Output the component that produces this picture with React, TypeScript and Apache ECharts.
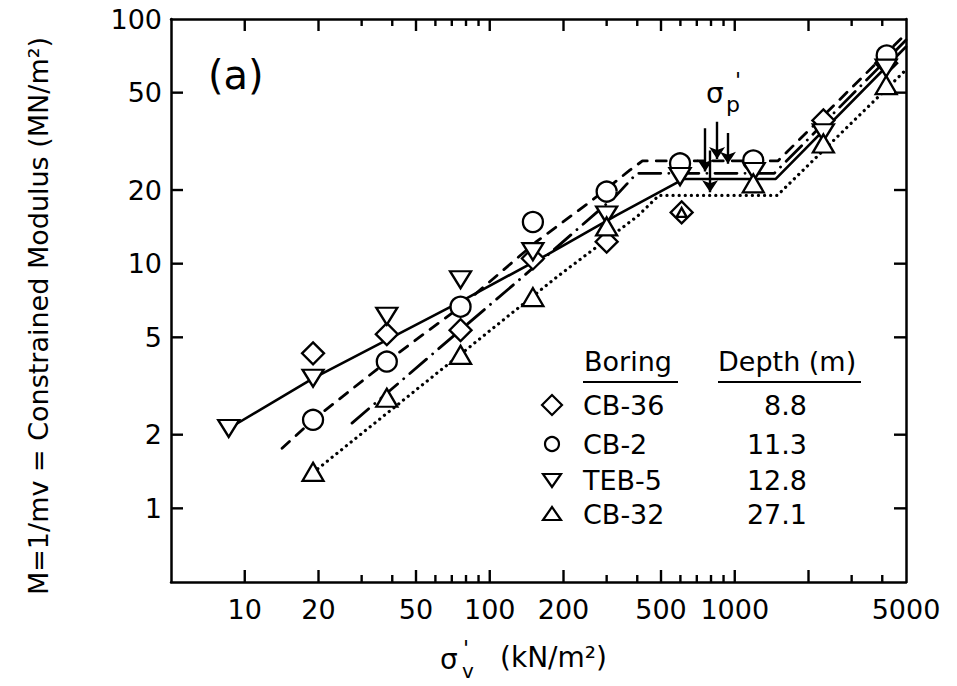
import React, { useEffect, useRef } from 'react';
import * as echarts from 'echarts';

// ---------- data (sigma'v in kN/m2, M in MN/m2) ----------
const borings = ['CB-36', 'CB-2', 'TEB-5', 'CB-32'];
const depths = ['8.8', '11.3', '12.8', '27.1'];

const cb36Stress = [19, 38, 76, 150, 300, 607, 2300, 4150];
const cb36Modulus = [4.3, 5.15, 5.35, 10.5, 12.3, 16.2, 38.5, 66];
const cb2Stress = [19, 38, 76, 150, 300, 598, 1190, 4170];
const cb2Modulus = [2.3, 3.98, 6.67, 14.8, 19.7, 25.7, 26.4, 71];
const teb5Stress = [8.6, 19, 38, 76, 150, 300, 598, 1200, 2300, 4150];
const teb5Modulus = [2.12, 3.4, 6.1, 8.6, 11.2, 15.8, 22.7, 23.8, 34.3, 63];
const cb32Stress = [19, 38, 76, 150, 300, 607, 1190, 2300, 4150];
const cb32Modulus = [1.41, 2.83, 4.24, 7.3, 14.2, 16.2, 21.3, 31, 53.7];

// interpreted curves
const solidStress = [8.6, 19, 76, 171, 330, 620, 1470, 5000];
const solidModulus = [2.12, 3.4, 7.0, 10.86, 15.8, 22.2, 22.2, 77];
const dashedStress = [14.2, 19, 38, 76, 155, 257, 373, 420, 1500, 5000];
const dashedModulus = [1.76, 2.3, 3.98, 6.67, 12.3, 17.9, 24.1, 26.3, 26.3, 87];
const dashDotStress = [27.4, 76, 137, 330, 398, 1450, 5000];
const dashDotModulus = [2.23, 5.36, 8.87, 19.1, 23.4, 23.4, 82];
const dottedStress = [19, 190, 400, 490, 1490, 5000];
const dottedModulus = [1.4, 8.9, 15.6, 19.0, 19.0, 62];

// sigma'p arrows
const arrowStress = [757, 847, 938, 793];
const arrowFrom = [35.8, 38, 34.2, 29];
const arrowTo = [23.8, 26.8, 25.6, 19.6];

// axes
const xMajorTicks = [10, 20, 50, 100, 200, 500, 1000, 2000];
const xMinorTicks = [30, 40, 60, 70, 80, 90, 300, 400, 600, 700, 800, 900, 3000, 4000];
const xTickLabels = [10, 20, 50, 100, 200, 500, 1000, 5000];
const yTicks = [1, 2, 5, 10, 20, 50];
const yTickLabels = [1, 2, 5, 10, 20, 50, 100];
const X_MIN = 5;
const X_MAX = 5000;
const Y_MIN = 0.5;
const Y_MAX = 100;

const L = (v: number) => Math.log10(v);
const pts = (xs: number[], ys: number[]) => xs.map((x, i) => [L(x), L(ys[i])]);

const FONT = 'DejaVu Sans';
const BLACK = '#000';

const GRID = { left: 171, top: 19, width: 735, height: 563 };

function xAxisDef(position: 'bottom' | 'top', showLabels: boolean) {
  return {
    type: 'value',
    position,
    min: L(X_MIN),
    max: L(X_MAX),
    axisLine: { show: true, onZero: false, lineStyle: { color: BLACK, width: 2.5 } },
    axisTick: { show: false },
    axisLabel: showLabels
      ? {
          show: true,
          customValues: xTickLabels.map(L),
          formatter: (v: number) => String(Math.round(Math.pow(10, v))),
          color: BLACK,
          fontFamily: FONT,
          fontSize: 27,
          margin: 14,
        }
      : { show: false },
    splitLine: { show: false },
  };
}

function yAxisDef(position: 'left' | 'right', showLabels: boolean) {
  return {
    type: 'value',
    position,
    min: L(Y_MIN),
    max: L(Y_MAX),
    axisLine: { show: true, onZero: false, lineStyle: { color: BLACK, width: 2.5 } },
    axisTick: { show: false },
    axisLabel: showLabels
      ? {
          show: true,
          customValues: yTickLabels.map(L),
          formatter: (v: number) => String(Math.round(Math.pow(10, v))),
          color: BLACK,
          fontFamily: FONT,
          fontSize: 27,
          margin: 9,
        }
      : { show: false },
    splitLine: { show: false },
  };
}

const markerStyle = { color: '#fff', borderColor: BLACK, borderWidth: 2.3, opacity: 1 };
const TRI_DOWN = 'path://M0 0 L20 0 L10 17 Z';

function textEl(text: string, x: number, y: number, size: number, align = 'left', extra: any = {}) {
  return {
    type: 'text',
    x,
    y,
    z: 10,
    ...extra,
    style: {
      text,
      fill: BLACK,
      fontFamily: FONT,
      fontSize: size,
      textAlign: align,
      align,
      textVerticalAlign: 'middle',
      verticalAlign: 'middle',
    },
  };
}

function seg(x1: number, y1: number, x2: number, y2: number, w = 2.4, color = BLACK) {
  return { type: 'line', z: 20, silent: true, shape: { x1, y1, x2, y2 }, style: { stroke: color, lineWidth: w } };
}

export default function App() {
  const ref = useRef<HTMLDivElement>(null);

  useEffect(() => {
    if (!ref.current) return;
    const chart = echarts.init(ref.current, undefined, { renderer: 'svg' });

    const lineSeries = (name: string, xs: number[], ys: number[], type: any, width: number) => ({
      name,
      type: 'line',
      xAxisIndex: 0,
      yAxisIndex: 0,
      data: pts(xs, ys),
      symbol: 'none',
      showSymbol: false,
      silent: true,
      z: 2,
      lineStyle: { color: BLACK, width, type, cap: 'round' },
    });

    const scatter = (name: string, xs: number[], ys: number[], symbol: string, size: any) => ({
      name,
      type: 'scatter',
      xAxisIndex: 0,
      yAxisIndex: 0,
      data: pts(xs, ys),
      symbol,
      symbolSize: size,
      itemStyle: markerStyle,
      z: 3,
    });

    // legend drawn as a table
    const rowsY = [405, 444, 480, 514];
    const sx = 552;
    const legendSymbols: any[] = [
      { type: 'polygon', shape: { points: [[sx, rowsY[0] - 10], [sx + 10, rowsY[0]], [sx, rowsY[0] + 10], [sx - 10, rowsY[0]]] } },
      { type: 'circle', shape: { cx: sx, cy: rowsY[1], r: 7 } },
      { type: 'polygon', shape: { points: [[sx - 9, rowsY[2] - 6], [sx + 9, rowsY[2] - 6], [sx, rowsY[2] + 7]] } },
      { type: 'polygon', shape: { points: [[sx - 9, rowsY[3] + 6], [sx + 9, rowsY[3] + 6], [sx, rowsY[3] - 7]] } },
    ].map((s) => ({ ...s, z: 10, style: { fill: '#fff', stroke: BLACK, lineWidth: 2.2 } }));

    const graphic: any[] = [
      textEl('(a)', 208, 75, 40),
      // sigma'p label
      textEl('σ', 706, 93, 28),
      textEl('p', 726, 104, 22),
      textEl("'", 735, 80, 22),
      // x-axis title
      textEl('σ', 440, 659, 28),
      textEl('v', 462, 671, 20),
      textEl("'", 463, 648, 22),
      textEl('(kN/m²)', 500, 657, 28),
      // y-axis title
      textEl('M=1/mv = Constrained Modulus (MN/m²)', 38, 316, 27, 'center', { rotation: Math.PI / 2 }),
      // legend headers
      textEl('Boring', 584, 361, 27),
      textEl('Depth (m)', 718, 361, 27),
      seg(583, 382, 678, 382, 2),
      seg(718, 382, 861, 382, 2),
      ...legendSymbols,
      ...borings.map((b, i) => textEl(b, 583, rowsY[i], 27)),
      ...depths.map((d, i) => textEl(d, 807, rowsY[i], 27, 'right')),
    ];

    const option: any = {
      animation: false,
      backgroundColor: '#fff',
      grid: { ...GRID, containLabel: false },
      xAxis: [xAxisDef('bottom', true), xAxisDef('top', false)],
      yAxis: [yAxisDef('left', true), yAxisDef('right', false)],
      series: [
        lineSeries('TEB-5 curve', solidStress, solidModulus, 'solid', 2.6),
        lineSeries('CB-2 curve', dashedStress, dashedModulus, [10, 9], 2.8),
        lineSeries('CB-36 curve', dashDotStress, dashDotModulus, [22, 8, 0.1, 8], 2.8),
        lineSeries('CB-32 curve', dottedStress, dottedModulus, [0.1, 6], 3.2),
        {
          name: "sigma'p",
          type: 'lines',
          coordinateSystem: 'cartesian2d',
          xAxisIndex: 0,
          yAxisIndex: 0,
          symbol: ['none', 'arrow'],
          symbolSize: 12,
          z: 4,
          silent: true,
          lineStyle: { color: BLACK, width: 2.4, opacity: 1, curveness: 0 },
          data: arrowStress.map((x, i) => ({ coords: [[L(x), L(arrowFrom[i])], [L(x), L(arrowTo[i])]] })),
        },
        scatter(borings[0], cb36Stress, cb36Modulus, 'diamond', [22, 22]),
        scatter(borings[1], cb2Stress, cb2Modulus, 'circle', 20),
        scatter(borings[2], teb5Stress, teb5Modulus, TRI_DOWN, [21, 17]),
        scatter(borings[3], cb32Stress, cb32Modulus, 'triangle',
          (_v: any, p: any) => (p && p.dataIndex === 5 ? [10, 9] : [21, 18])),
      ],
    };

    chart.setOption(option);

    // inward ticks on all four sides, positioned through the axes' scales
    const finder = { gridIndex: 0 };
    const linX = (x: number) => GRID.left + ((x - L(X_MIN)) / (L(X_MAX) - L(X_MIN))) * GRID.width;
    const linY = (y: number) => GRID.top + GRID.height - ((y - L(Y_MIN)) / (L(Y_MAX) - L(Y_MIN))) * GRID.height;
    const toPx = (x: number, y: number): number[] => {
      let p: any = null;
      try {
        p = chart.convertToPixel(finder as any, [x, y]);
      } catch (e) {
        p = null;
      }
      if (!p || !isFinite(p[0]) || !isFinite(p[1])) return [linX(x), linY(y)];
      return p as number[];
    };
    const ticks: any[] = [];
    const [xl, yb] = toPx(L(X_MIN), L(Y_MIN));
    const [xr, yt] = toPx(L(X_MAX), L(Y_MAX));
    const addX = (v: number, len: number) => {
      const px = toPx(L(v), L(Y_MIN))[0];
      ticks.push(seg(px, yb, px, yb - len), seg(px, yt, px, yt + len));
    };
    xMajorTicks.forEach((v) => addX(v, 12));
    xMinorTicks.forEach((v) => addX(v, 7));
    yTicks.forEach((v) => {
      const py = toPx(L(X_MIN), L(v))[1];
      ticks.push(seg(xl, py, xl + 12, py), seg(xr, py, xr - 12, py));
    });

    chart.setOption({ graphic: [...graphic, ...ticks] });
    return () => chart.dispose();
  }, []);

  return (
    <div
      ref={ref}
      style={{ position: 'fixed', left: 0, top: 0, width: 957, height: 686, background: '#fff' }}
    />
  );
}
